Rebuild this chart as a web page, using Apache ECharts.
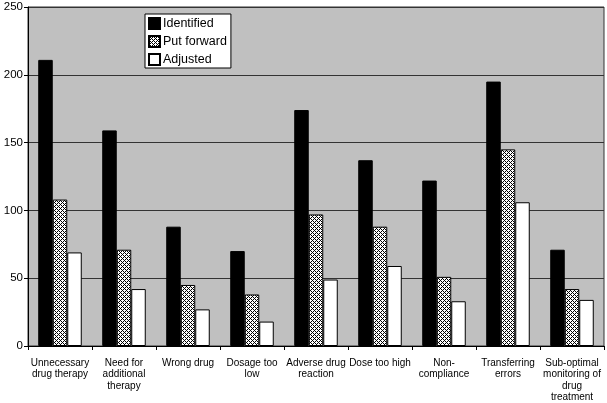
<!DOCTYPE html>
<html><head><meta charset="utf-8">
<script src="https://cdn.jsdelivr.net/npm/echarts@6/dist/echarts.min.js"></script>
<style>html,body{margin:0;padding:0;background:#fff}#c{width:607px;height:403px}</style>
</head><body><div id="c"></div>
<script>
var categories = ["Unnecessary\ndrug therapy","Need for\nadditional\ntherapy","Wrong drug","Dosage too\nlow","Adverse drug\nreaction","Dose too high","Non-\ncompliance","Transferring\nerrors","Sub-optimal\nmonitoring of\ndrug\ntreatment"];
var identified = [211,159,88,70,174,137,122,195,71];
var putForward = [108,71,45,38,97,88,51,145,42];
var adjusted = [69,42,27,18,49,59,33,106,34];
var yTicks = [0,50,100,150,200,250];

var tile = document.createElement('canvas');
tile.width = 4; tile.height = 4;
var tc = tile.getContext('2d');
tc.fillStyle = '#fff'; tc.fillRect(0,0,4,4);
tc.fillStyle = '#000';
for (var x=0;x<4;x++) for (var y=0;y<4;y++) {
  if ((x+y)%4===0 || ((x-y)+8)%4===0) tc.fillRect(x,y,1,1);
}
var pattern = {image: tile, repeat: 'repeat'};

var chart = echarts.init(document.getElementById('c'), null, {renderer:'canvas'});
var font = 'Liberation Sans, Arial, sans-serif';
chart.setOption({
  animation: false,
  backgroundColor: '#fff',
  textStyle: {fontFamily: font},
  grid: {left: 28, right: 3, top: 7, bottom: 55, show: true, backgroundColor: '#c0c0c0', borderColor: '#333', borderWidth: 1},
  legend: {
    left: 145, top: 14, orient: 'vertical', backgroundColor: '#fff', borderColor: '#000', borderWidth: 1,
    padding: [3, 4, 2, 3], itemGap: 5, itemWidth: 11, itemHeight: 11, icon: 'rect',
    textStyle: {fontFamily: font, fontSize: 12.5, color: '#000', padding: [0,0,0,-2]},
    data: ['Identified','Put forward','Adjusted']
  },
  xAxis: {
    type: 'category', data: categories,
    axisLine: {lineStyle: {color: '#000'}},
    axisTick: {show: true, length: 4, lineStyle: {color: '#000'}},
    axisLabel: {color: '#000', fontSize: 10, lineHeight: 11.5, margin: 11, interval: 0, fontFamily: font}
  },
  yAxis: {
    type: 'value', min: yTicks[0], max: yTicks[yTicks.length-1], interval: 50,
    axisLine: {show: true, lineStyle: {color: '#000'}},
    axisTick: {show: true, length: 4, lineStyle: {color: '#000'}},
    axisLabel: {color: '#000', fontSize: 11.5, margin: 5, fontFamily: font},
    splitLine: {lineStyle: {color: '#333', width: 1}}
  },
  series: [
    {name: 'Identified', type: 'bar', data: identified, barGap: 0, barCategoryGap: '32%',
     itemStyle: {color: '#000', borderColor: '#000', borderWidth: 1}},
    {name: 'Put forward', type: 'bar', data: putForward,
     itemStyle: {color: pattern, borderColor: '#000', borderWidth: 1}},
    {name: 'Adjusted', type: 'bar', data: adjusted,
     itemStyle: {color: '#fff', borderColor: '#000', borderWidth: 1}}
  ]
});
</script></body></html>
